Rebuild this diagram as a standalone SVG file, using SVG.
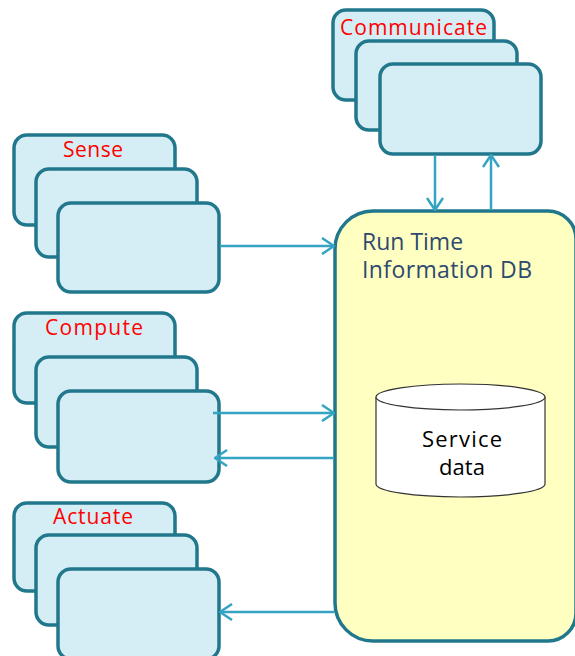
<svg xmlns="http://www.w3.org/2000/svg" width="575" height="656" viewBox="0 0 575 656">
  <style>
    .card { fill: #d5edf4; stroke: #21788c; stroke-width: 3.5; }
    .label { font-family: "Open Sans", "DejaVu Sans", sans-serif; font-size: 21px; fill: #ff0000; }
    .db { fill: #ffffc2; stroke: #21788c; stroke-width: 3.5; }
    .dbtitle { font-family: "Open Sans", "DejaVu Sans", sans-serif; font-size: 23px; fill: #2e4a6e; }
    .store { fill: #ffffff; stroke: #333333; stroke-width: 1.2; }
    .storetext { font-family: "Open Sans", "DejaVu Sans", sans-serif; font-size: 22px; fill: #000000; text-anchor: middle; }
    .link { fill: none; stroke: #34a4c2; stroke-width: 2.5; }
  </style>
  <defs>
    <marker id="arrow" viewBox="0 0 14 18" refX="13" refY="9" markerWidth="14" markerHeight="18" markerUnits="userSpaceOnUse" orient="auto">
      <path d="M1,1 L13,9 L1,17" fill="none" stroke="#34a4c2" stroke-width="2.5" stroke-linejoin="miter"/>
    </marker>
  </defs>

  <rect width="575" height="656" fill="#ffffff"/>

  <!-- Run time information store -->
  <g id="runtime-db">
    <path class="db" d="M373,211 H548 A28,28 0 0 1 576,239 V613 A28,28 0 0 1 548,641 H373 A38,38 0 0 1 335,603 V249 A38,38 0 0 1 373,211 Z"/>
    <text class="dbtitle" x="362" y="250">Run Time</text>
    <text class="dbtitle" x="362" y="278" textLength="170" lengthAdjust="spacing">Information DB</text>
  </g>

  <g id="service-data">
    <path class="store" d="M376,397 L376,484 A84.5,13 0 0 0 545,484 L545,397"/>
    <ellipse class="store" cx="460.5" cy="397" rx="84.5" ry="13"/>
    <text class="storetext" x="462" y="447" textLength="80" lengthAdjust="spacing">Service</text>
    <text class="storetext" x="462" y="475">data</text>
  </g>

  <!-- Communicate stack -->
  <g id="communicate">
    <rect class="card" x="333" y="10" width="161" height="90" rx="13"/>
    <rect class="card" x="356" y="41" width="161" height="89" rx="13"/>
    <rect class="card" x="380" y="64" width="161" height="90" rx="13"/>
    <text class="label" x="340" y="35" textLength="147" lengthAdjust="spacing">Communicate</text>
  </g>

  <!-- Sense stack -->
  <g id="sense">
    <rect class="card" x="14" y="135" width="161" height="90" rx="13"/>
    <rect class="card" x="36" y="169" width="161" height="88" rx="13"/>
    <rect class="card" x="58" y="203" width="161" height="89" rx="13"/>
    <text class="label" x="63" y="157" textLength="60" lengthAdjust="spacing">Sense</text>
  </g>

  <!-- Compute stack -->
  <g id="compute">
    <rect class="card" x="14" y="313" width="161" height="90" rx="13"/>
    <rect class="card" x="36" y="357" width="161" height="90" rx="13"/>
    <rect class="card" x="58" y="391" width="161" height="91" rx="13"/>
    <text class="label" x="45" y="335" textLength="98" lengthAdjust="spacing">Compute</text>
  </g>

  <!-- Actuate stack -->
  <g id="actuate">
    <rect class="card" x="14" y="503" width="161" height="88" rx="13"/>
    <rect class="card" x="36" y="535" width="161" height="90" rx="13"/>
    <rect class="card" x="58" y="569" width="161" height="90" rx="13"/>
    <text class="label" x="53" y="524" textLength="80" lengthAdjust="spacing">Actuate</text>
  </g>

  <!-- Connectors -->
  <g id="connectors">
    <line class="link" x1="435" y1="155" x2="435" y2="210" marker-end="url(#arrow)"/>
    <line class="link" x1="491" y1="210" x2="491" y2="155" marker-end="url(#arrow)"/>
    <line class="link" x1="220" y1="246" x2="334" y2="246" marker-end="url(#arrow)"/>
    <line class="link" x1="213" y1="413" x2="334" y2="413" marker-end="url(#arrow)"/>
    <line class="link" x1="334" y1="458" x2="215" y2="458" marker-end="url(#arrow)"/>
    <line class="link" x1="334" y1="612" x2="220" y2="612" marker-end="url(#arrow)"/>
  </g>
</svg>
